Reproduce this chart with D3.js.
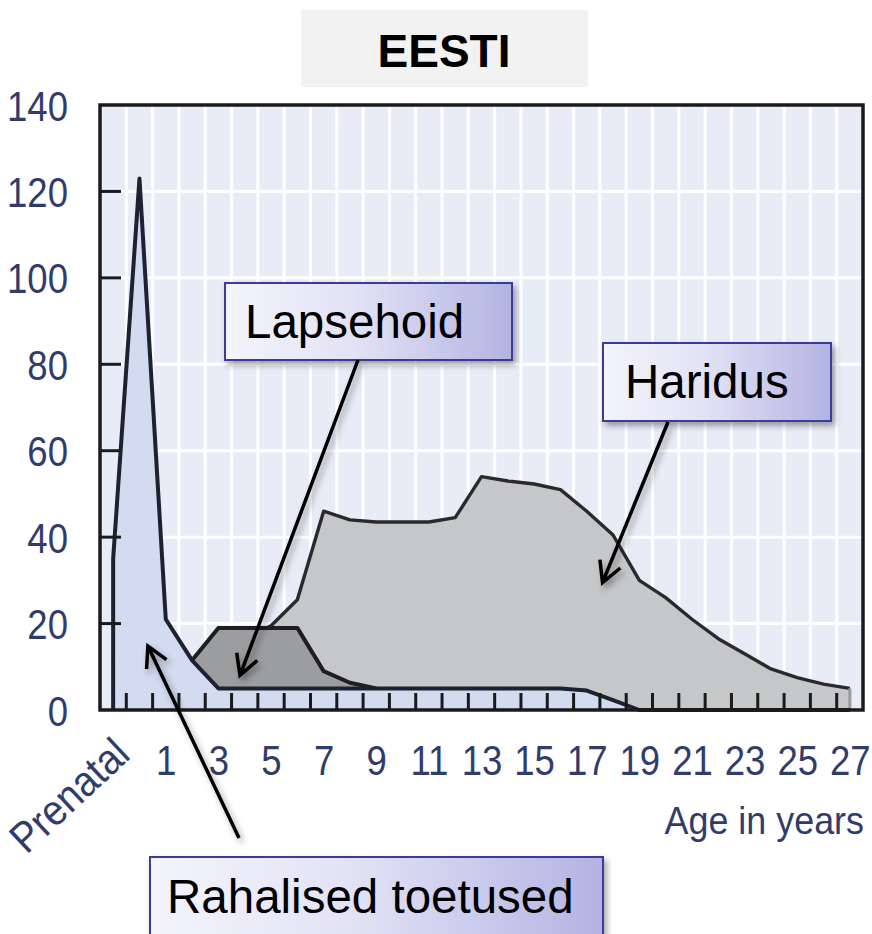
<!DOCTYPE html>
<html>
<head>
<meta charset="utf-8">
<script src="https://cdn.jsdelivr.net/npm/d3@7"></script>
<style>
  body { margin: 0; background: #fff; }
  svg { display: block; }
</style>
</head>
<body>
<div id="chart"></div>
<script>
// ages on the x axis, -1 = prenatal
const ages = d3.range(-1, 28);
const labelAges = [-1, 1, 3, 5, 7, 9, 11, 13, 15, 17, 19, 21, 23, 25, 27];
const labelText = ['Prenatal', '1', '3', '5', '7', '9', '11', '13', '15', '17', '19', '21', '23', '25', '27'];
const yTicks = [0, 20, 40, 60, 80, 100, 120, 140];

// series, one value per age (-1 .. 27)
const rahalised = [35, 123, 21, 11.5,
  5, 5, 5, 5, 5, 5, 5, 5, 5, 5, 5, 5, 5, 5,
  4.5, 2.3,
  0, 0, 0, 0, 0, 0, 0, 0, 0];
const haridus = [null, null, null, 11.5, 14, 16.5, 19.5, 25.5, 46, 44, 43.5, 43.5, 43.5, 44.5,
  54, 53, 52.3, 51, 46, 40.5, 30, 26, 21, 16.5, 13, 9.5, 7.5, 6, 5];
const lapsehoid = [null, null, null, 11.5, 19, 19, 19, 19, 9, 6.3, 5,
  null, null, null, null, null, null, null, null, null,
  null, null, null, null, null, null, null, null, null];

const W = 872, H = 934;
const x = d3.scaleLinear().domain([-1.5, 27.5]).range([100, 863]);
const y = d3.scaleLinear().domain([0, 140]).range([710, 105]);

const svg = d3.create('svg').attr('width', W).attr('height', H);
const defs = svg.append('defs');

const grad = defs.append('linearGradient').attr('id', 'boxfill');
grad.append('stop').attr('offset', '0%').attr('stop-color', '#f4f4fc');
grad.append('stop').attr('offset', '45%').attr('stop-color', '#e2e2f5');
grad.append('stop').attr('offset', '100%').attr('stop-color', '#b3b3e3');

const sh = defs.append('filter').attr('id', 'shadow')
  .attr('x', '-10%').attr('y', '-10%').attr('width', '130%').attr('height', '140%');
sh.append('feDropShadow').attr('dx', 3).attr('dy', 4).attr('stdDeviation', 3)
  .attr('flood-color', '#000').attr('flood-opacity', 0.35);

// title
svg.append('rect').attr('x', 301).attr('y', 10).attr('width', 287).attr('height', 77).attr('fill', '#f2f2f2');
svg.append('text').attr('x', 444).attr('y', 67).attr('text-anchor', 'middle')
  .attr('font-family', 'Liberation Sans, Arial, sans-serif').attr('font-weight', 'bold')
  .attr('font-size', 46).attr('fill', '#000').text('EESTI');

// plot background and grid
svg.append('rect').attr('x', x(-1.5)).attr('y', y(140))
  .attr('width', x(27.5) - x(-1.5)).attr('height', y(0) - y(140)).attr('fill', '#e8ecf7');

svg.append('g').selectAll('line').data(d3.range(-0.5, 27, 1)).join('line')
  .attr('x1', d => x(d)).attr('x2', d => x(d)).attr('y1', y(140)).attr('y2', y(0))
  .attr('stroke', '#fff').attr('stroke-width', 3);
svg.append('g').selectAll('line').data(yTicks.slice(1, -1)).join('line')
  .attr('x1', x(-1.5)).attr('x2', x(27.5)).attr('y1', d => y(d)).attr('y2', d => y(d))
  .attr('stroke', '#fff').attr('stroke-width', 3);

// areas
const blueData = ages.map((a, i) => ({ a, v: rahalised[i] }));
const hData = ages.map((a, i) => ({ a, lo: rahalised[i], v: haridus[i] }));
const lData = ages.map((a, i) => ({ a, lo: rahalised[i], v: lapsehoid[i] }));

const blueArea = d3.area().x(d => x(d.a)).y0(y(0)).y1(d => y(d.v));
const stackArea = d3.area().defined(d => d.v != null).x(d => x(d.a)).y0(d => y(d.lo)).y1(d => y(d.v));
const topLine = d3.line().defined(d => d.v != null).x(d => x(d.a)).y(d => y(d.v));

svg.append('path').datum(blueData).attr('d', blueArea).attr('fill', '#d2dbef');

svg.append('path').datum(hData).attr('d', stackArea).attr('fill', '#c6c7c9');
svg.append('path').datum(hData).attr('d', topLine)
  .attr('fill', 'none').attr('stroke', '#2a2a2c').attr('stroke-width', 3.4)
  .attr('stroke-linejoin', 'round');
const hLast = hData[hData.length - 1];
svg.append('line').attr('x1', x(hLast.a)).attr('x2', x(hLast.a))
  .attr('y1', y(hLast.v)).attr('y2', y(0)).attr('stroke', '#9a9a9c').attr('stroke-width', 3);

svg.append('path').datum(lData).attr('d', stackArea).attr('fill', '#9c9d9f');
svg.append('path').datum(lData).attr('d', topLine)
  .attr('fill', 'none').attr('stroke', '#1e1e22').attr('stroke-width', 4)
  .attr('stroke-linejoin', 'round');

// blue outline incl. left edge at prenatal
const bFirst = blueData[0];
svg.append('path')
  .attr('d', 'M' + x(bFirst.a) + ',' + y(0) + 'L' + topLine(blueData).slice(1))
  .attr('fill', 'none').attr('stroke', '#1d2130').attr('stroke-width', 4)
  .attr('stroke-linejoin', 'round');

// tick marks inside the frame
svg.append('g').selectAll('line').data(d3.range(-0.5, 27, 1)).join('line')
  .attr('x1', d => x(d)).attr('x2', d => x(d)).attr('y1', y(0)).attr('y2', y(0) - 17)
  .attr('stroke', '#1a1a1a').attr('stroke-width', 3);
svg.append('g').selectAll('line').data(yTicks.slice(1, -1)).join('line')
  .attr('x1', x(-1.5)).attr('x2', x(-1.5) + 21).attr('y1', d => y(d)).attr('y2', d => y(d))
  .attr('stroke', '#1a1a1a').attr('stroke-width', 3);

// frame
svg.append('rect').attr('x', x(-1.5)).attr('y', y(140))
  .attr('width', x(27.5) - x(-1.5)).attr('height', y(0) - y(140))
  .attr('fill', 'none').attr('stroke', '#1a1a1a').attr('stroke-width', 3.5);

// axis labels
const axisColor = '#323c6c';
const yAxis = svg.append('g').attr('transform', 'translate(68,0)')
  .call(d3.axisLeft(y).tickValues(yTicks).tickSize(0).tickPadding(0));
yAxis.select('.domain').remove();
yAxis.selectAll('text').attr('x', 0).attr('dy', '0.35em')
  .attr('transform', 'scale(0.85,1)')
  .attr('font-family', 'Liberation Sans, Arial, sans-serif').attr('font-size', 43).attr('fill', axisColor);

const xAxis = svg.append('g').attr('transform', 'translate(0,760)')
  .call(d3.axisBottom(x).tickValues(labelAges).tickSize(0)
    .tickFormat((d, i) => labelText[i]));
xAxis.select('.domain').remove();
xAxis.selectAll('text').attr('y', 0).attr('dy', '0.35em')
  .attr('transform', 'scale(0.85,1)')
  .attr('font-family', 'Liberation Sans, Arial, sans-serif').attr('font-size', 43).attr('fill', axisColor);
xAxis.selectAll('text').filter(d => d === -1)
  .attr('text-anchor', 'end')
  .attr('transform', 'translate(8,-14) rotate(-43) scale(0.9,1)');

svg.append('text').attr('x', 864).attr('y', 834).attr('text-anchor', 'end')
  .attr('transform', 'translate(864,0) scale(0.92,1) translate(-864,0)')
  .attr('font-family', 'Liberation Sans, Arial, sans-serif').attr('font-size', 39)
  .attr('fill', axisColor).text('Age in years');

// callout boxes
const callouts = [
  { label: 'Lapsehoid', x: 225, y: 283, w: 287, h: 77, tx: 245, ty: 338 },
  { label: 'Haridus', x: 603, y: 343, w: 228, h: 78, tx: 625, ty: 398 },
  { label: 'Rahalised toetused', x: 150, y: 857, w: 453, h: 90, tx: 167, ty: 913 }
];
const cg = svg.append('g').selectAll('g').data(callouts).join('g');
cg.append('rect').attr('x', d => d.x).attr('y', d => d.y).attr('width', d => d.w).attr('height', d => d.h)
  .attr('fill', 'url(#boxfill)').attr('stroke', '#3a3a98').attr('stroke-width', 2)
  .attr('filter', 'url(#shadow)');
cg.append('text').attr('x', d => d.tx).attr('y', d => d.ty)
  .attr('font-family', 'Liberation Sans, Arial, sans-serif').attr('font-size', 47.5).attr('fill', '#000')
  .text(d => d.label);

// arrows: tail in pixels, tip in data units
const arrows = [
  { x1: 358, y1: 360, age: 3.82, val: 8 },
  { x1: 668, y1: 422, age: 17.6, val: 29.5 },
  { x1: 239, y1: 838, age: 0.32, val: 14.8 }
];
const arrowPath = d => {
  const tx = x(d.age), ty = y(d.val);
  const a = Math.atan2(ty - d.y1, tx - d.x1), L = 23, s = 0.5;
  return 'M' + d.x1 + ',' + d.y1 + 'L' + tx + ',' + ty +
    'M' + (tx - L * Math.cos(a - s)) + ',' + (ty - L * Math.sin(a - s)) +
    'L' + tx + ',' + ty +
    'L' + (tx - L * Math.cos(a + s)) + ',' + (ty - L * Math.sin(a + s));
};
svg.append('g').selectAll('path').data(arrows).join('path')
  .attr('d', arrowPath).attr('fill', 'none').attr('stroke', '#000')
  .attr('stroke-width', 3.5).attr('stroke-linejoin', 'miter').attr('filter', 'url(#shadow)');

d3.select('#chart').node().appendChild(svg.node());
</script>
</body>
</html>
